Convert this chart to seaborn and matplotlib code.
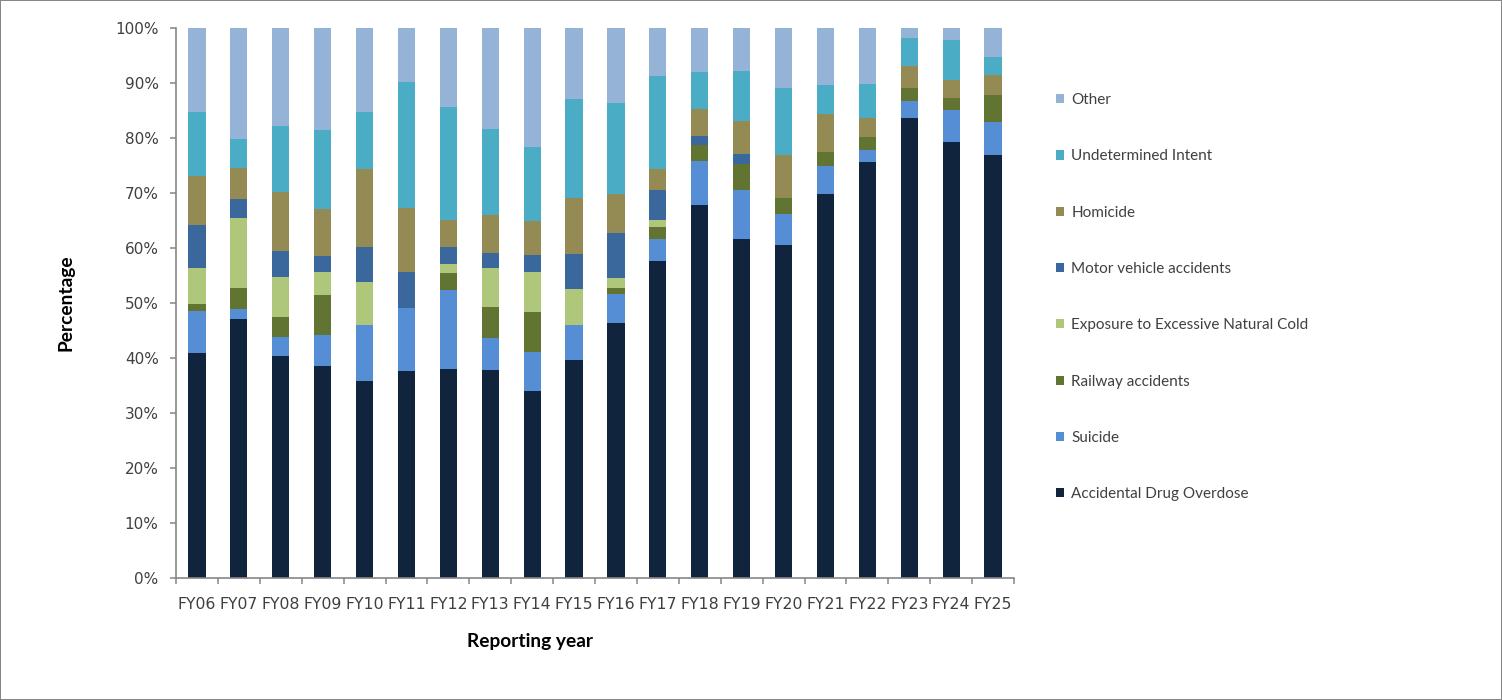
import matplotlib
matplotlib.use("Agg")
import matplotlib.pyplot as plt
from matplotlib.patches import Patch
from matplotlib.ticker import FuncFormatter, FixedLocator
import numpy as np
import seaborn as sns

years = ["FY06", "FY07", "FY08", "FY09", "FY10", "FY11", "FY12", "FY13", "FY14", "FY15",
         "FY16", "FY17", "FY18", "FY19", "FY20", "FY21", "FY22", "FY23", "FY24", "FY25"]

# share of deaths by cause (%), one list per cause
accidental_overdose = [41.0, 47.1, 40.3, 38.5, 35.8, 37.6, 38.0, 37.9, 34.0, 39.6,
                       46.3, 57.6, 67.9, 61.7, 60.5, 69.8, 75.7, 83.7, 79.3, 77.0]
suicide = [7.6, 1.8, 3.6, 5.7, 10.2, 11.5, 14.4, 5.7, 7.1, 6.4,
           5.4, 4.0, 7.9, 8.9, 5.7, 5.1, 2.2, 3.0, 5.8, 5.9]
railway = [1.3, 3.8, 3.6, 7.2, 0.0, 0.0, 3.1, 5.7, 7.2, 0.0,
           1.0, 2.2, 2.9, 4.7, 2.9, 2.6, 2.2, 2.4, 2.2, 5.0]
exposure_cold = [6.4, 12.7, 7.2, 4.2, 7.8, 0.0, 1.6, 7.0, 7.3, 6.5,
                 1.8, 1.3, 0.0, 0.0, 0.0, 0.0, 0.0, 0.0, 0.0, 0.0]
motor_vehicle = [7.8, 3.6, 4.8, 3.0, 6.4, 6.6, 3.1, 2.8, 3.1, 6.4,
                 8.2, 5.4, 1.6, 1.8, 0.0, 0.0, 0.0, 0.0, 0.0, 0.0]
homicide = [9.0, 5.5, 10.7, 8.5, 14.2, 11.5, 4.9, 6.9, 6.2, 10.2,
            7.2, 3.9, 5.0, 6.0, 7.8, 6.8, 3.6, 4.0, 3.2, 3.6]
undetermined = [11.6, 5.4, 11.9, 14.4, 10.3, 23.0, 20.5, 15.7, 13.4, 18.0,
                16.4, 16.9, 6.7, 9.1, 12.2, 5.4, 6.2, 5.1, 7.3, 3.2]
other = [15.3, 20.1, 17.9, 18.5, 15.3, 9.8, 14.4, 18.3, 21.7, 12.9,
         13.7, 8.7, 8.0, 7.8, 10.9, 10.3, 10.1, 1.8, 2.2, 5.3]

series_names = ["Accidental Drug Overdose", "Suicide", "Railway accidents",
                "Exposure to Excessive Natural Cold", "Motor vehicle accidents",
                "Homicide", "Undetermined Intent", "Other"]
series_values = [accidental_overdose, suicide, railway, exposure_cold,
                 motor_vehicle, homicide, undetermined, other]
series_colors = ["#10243E", "#558ED5", "#617431", "#AEC77A",
                 "#3A679C", "#948A54", "#4BACC6", "#95B3D7"]

sns.set_style("white")
plt.rcParams["font.family"] = ["DejaVu Sans"]

axis_grey = "#868686"
text_col = "#404040"

fig = plt.figure(figsize=(15.02, 7.0), dpi=100, edgecolor=axis_grey, linewidth=1.2)
ax_left, ax_right, ax_top, ax_bottom = 176, 1014, 28, 578
ax = fig.add_axes([ax_left / 1502, 1 - ax_bottom / 700,
                   (ax_right - ax_left) / 1502, (ax_bottom - ax_top) / 700])

bottom = np.zeros(len(years))
for name, vals, col in zip(series_names, series_values, series_colors):
    sns.barplot(x=years, y=vals, bottom=bottom, color=col, saturation=1,
                width=0.41, errorbar=None, linewidth=0, ax=ax)
    bottom = bottom + np.asarray(vals)

ax.set_ylim(0, 100)
ax.set_xlim(-0.5, len(years) - 0.5)
ax.set_yticks(np.arange(0, 101, 10))
ax.yaxis.set_major_formatter(FuncFormatter(lambda v, _: f"{int(v)}%"))

# category separators as tick marks on the x axis
ax.xaxis.set_minor_locator(FixedLocator(np.arange(-0.5, len(years), 1.0)))
ax.tick_params(axis="x", which="major", length=0, pad=14, labelsize=11.3, labelcolor=text_col)
ax.tick_params(axis="x", which="minor", length=4.5, width=1.1, color=axis_grey, direction="out", bottom=True)
ax.tick_params(axis="y", which="major", length=4.5, width=1.1, color=axis_grey, direction="out",
               left=True, pad=8, labelsize=11, labelcolor=text_col)

for side in ("top", "right"):
    ax.spines[side].set_visible(False)
for side in ("left", "bottom"):
    ax.spines[side].set_color(axis_grey)
    ax.spines[side].set_linewidth(1.2)

ax.set_xlabel("Reporting year", fontsize=13.8, fontweight="bold", family=["Lato", "DejaVu Sans"],
              color="black")
ax.xaxis.set_label_coords((530 - ax_left) / (ax_right - ax_left), -(641 - ax_bottom) / (ax_bottom - ax_top),
                          transform=ax.transAxes)
ax.xaxis.label.set_va("center")
ax.set_ylabel("Percentage", fontsize=13.8, fontweight="bold", family=["Lato", "DejaVu Sans"],
              color="black")
ax.yaxis.set_label_coords(-(ax_left - 66) / (ax_right - ax_left), 0.5, transform=ax.transAxes)
ax.yaxis.label.set_va("center")
ax.grid(False)

handles = [Patch(facecolor=c, edgecolor="none", label=n)
           for n, c in zip(series_names, series_colors)][::-1]
leg = ax.legend(handles=handles, loc="upper left", bbox_to_anchor=(1056 / 1502, 1 - 93 / 700),
                bbox_transform=fig.transFigure, frameon=False, borderpad=0, borderaxespad=0,
                handlelength=0.55, handleheight=0.55, handletextpad=0.45, labelspacing=2.77,
                prop={"family": ["Lato", "DejaVu Sans"], "size": 11})
for t in leg.get_texts():
    t.set_color(text_col)

fig.savefig("out.png", dpi=100)
